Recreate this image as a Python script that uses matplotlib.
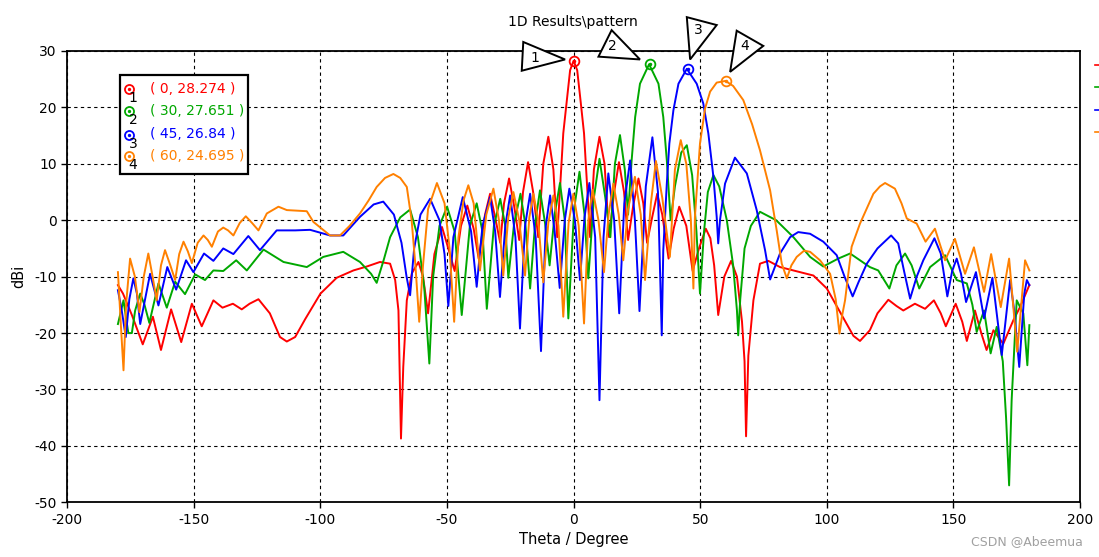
#!/usr/bin/env python3
#-----------------------------------------------------------------------------
#                   1D Results\pattern  (4 scan angles)
#-----------------------------------------------------------------------------
import numpy as np
import matplotlib.pyplot as plt
from matplotlib.patches import Polygon, Rectangle
from matplotlib.lines import Line2D

plt.rcParams['axes.unicode_minus'] = False
plt.rcParams['font.family'] = ['DejaVu Sans']

#%% data (theta in degree, gain in dBi)
redTheta = [-180, -178, -174.5, -170.2, -166.2, -163, -159, -155, -150.8, -146.9,
            -142.3, -138.7, -134.6, -131.1, -128, -124.5, -120, -116, -113.3, -110,
            -106, -100, -93.6, -87, -81.7, -76.5, -72.5, -70.5, -69.2, -68.2,
            -67.3, -65.9, -63.9, -61.3, -59.5, -57.5, -55, -52, -49.5, -47,
            -44.5, -42, -39.5, -37.5, -35, -33, -31, -29, -27.5, -25.5,
            -23.5, -21.5, -20, -18, -16, -14, -12, -10, -8, -6.5,
            -5.4, -4.1, -2.7, -1.4, 0, 1.4, 2.7, 4.1, 5.4, 6.5,
            8, 10.2, 12.2, 14, 16, 17.9, 19.9, 21.5, 23.5, 25.6,
            27.5, 29, 31, 33, 35, 37.5, 39.5, 41.7, 44.5, 47,
            49.5, 52.2, 54, 55.5, 57.1, 59.5, 62.2, 64.5, 66.5, 67.5,
            68.1, 69, 71, 73.6, 76.9, 81.5, 89.4, 94.7, 100, 103,
            107.8, 110.5, 113.1, 117, 120, 124.3, 127.5, 130.2, 134.8, 138.8,
            142.3, 145, 147, 150.9, 153.5, 155.3, 158.5, 161, 163.1, 165.8,
            169.7, 173.7, 176.3, 180]
redGain  = [-11.5, -13, -16.8, -22, -17.1, -23, -15.8, -21.6, -14.8, -18.8,
            -14.2, -15.5, -14.8, -15.8, -14.8, -14, -16.5, -20.7, -21.5, -20.7,
            -17.5, -13, -10.2, -8.9, -8.2, -7.4, -7.7, -10.6, -16, -38.7,
            -26, -14.2, -9.4, -7.4, -10, -16.5, -6, -1.2, -5, -9,
            -1, 2.6, -1.5, -6.8, 1, 4.7, 0.5, -4, 3, 7.4,
            2.5, -3.5, 5, 10.3, 5, -3, 10, 14.8, 9, -3,
            5.3, 15.4, 21.3, 26.6, 28.274, 26.6, 21.3, 15.4, 5.3, -3,
            9, 14.8, 10, -3, 5, 10.3, 5, -3.5, 2.5, 7.4,
            3, -4, 0.5, 4.7, 1, -6.8, -1.5, 2.4, -1, -9,
            -5, -1.5, -3.2, -8, -16.8, -10, -7.2, -10, -18, -25,
            -38.3, -24, -14.2, -7.7, -7.2, -8.3, -9.2, -9.8, -12.1, -14.5,
            -18.3, -20.5, -21.4, -19.5, -16.5, -14.1, -15.2, -16, -14.8, -15.7,
            -14.2, -16.5, -18.8, -14.8, -18, -21.4, -16, -20, -23, -19.5,
            -21.9, -17.7, -15.4, -11.5]

greenTheta = [-180, -177.8, -175.9, -174.5, -173.2, -171.2, -169.5, -167.6, -164, -160.7,
              -157.4, -153.5, -149.5, -145.6, -142.3, -138.4, -133.3, -129.1, -122.5, -114.6,
              -105.4, -98.9, -91, -84.4, -80, -77.8, -75, -72.5, -68.5, -64.6,
              -61.5, -59, -57, -55.5, -53, -50, -47, -44.2, -41, -38.3,
              -36, -34.3, -31.5, -29, -27, -25.8, -23.5, -21, -19, -17.2,
              -15.2, -13.3, -11.3, -9.5, -7.5, -5.4, -3.5, -2.1, 0.2, 2.3,
              4.3, 5.8, 8, 10.2, 12.5, 14.5, 16.3, 18.3, 20.2, 21.5,
              22.9, 24.3, 26.2, 29.8, 33.5, 35.4, 36.8, 38.3, 40, 42.5,
              44.7, 46.8, 48.5, 49.9, 51.5, 53, 55.2, 57.5, 60.5, 63,
              64.5, 65, 65.8, 67.5, 70, 73.6, 80, 86.8, 93.4, 98.6,
              104.5, 109.2, 117, 120.3, 124.7, 127.5, 130.9, 133.5, 136.5, 140.8,
              146.7, 151.3, 155.3, 157.5, 159.2, 162.1, 164.7, 167.1, 169.5, 170.8,
              172, 173, 175, 177.6, 179.2, 180]
greenGain  = [-18.4, -14.2, -20, -20, -16, -13, -15, -18.2, -11.2, -15.5,
              -10.9, -13.1, -9.6, -10.6, -8.9, -9, -7.1, -8.9, -5.2, -7.4,
              -8.3, -6.5, -5.6, -7.4, -9.5, -11.1, -7, -3, 0.5, 1.9,
              -3, -12, -25.4, -10, -1, 2.4, -2, -16.8, -1, 3,
              -2, -15.7, -1, 3.8, -1, -10.2, -0.5, 4.7, -1, -12.1,
              -0.5, 5.3, -0.5, -8, 1, 6.6, 0, -17.4, 2, 8.6,
              1, -10.3, 4, 10.9, 4, -3, 10, 15.1, 9, 1,
              10.6, 18.3, 24.2, 27.651, 24.2, 18.3, 10.6, 0, 6, 12,
              13.3, 8, -2, -13, -2, 5, 8, 6, 0, -8,
              -16, -20.4, -14, -5, -1, 1.5, 0, -3, -6.5, -8.2,
              -6.8, -5.9, -8.3, -8.9, -12.1, -8, -5.9, -8, -12.1, -8.3,
              -6.2, -10.6, -11.2, -15, -19.8, -16, -23.6, -18.9, -25, -35,
              -47, -31.9, -14.2, -16.5, -25.7, -18.6]

blueTheta = [-180, -178.5, -176.9, -175.5, -173.9, -172.5, -171.2, -167.3, -164, -160.5,
             -157, -153.1, -150.2, -146, -142.3, -138.4, -134.4, -128.5, -123.9, -117.3,
             -110, -104.1, -96.2, -91, -84.4, -79, -75.2, -71, -68, -66,
             -64.6, -63, -60.5, -56.7, -53, -51, -49.5, -47.5, -43.8, -40.5,
             -38.3, -36, -33, -31, -29.1, -27, -25.1, -23, -21.2, -19.2,
             -17.2, -15, -12.9, -11, -9.3, -7.5, -5.5, -3.5, -1.7, 0.5,
             2.5, 4.3, 6.2, 8.5, 10.2, 11.8, 13.7, 16, 18, 20,
             22.3, 24.2, 26, 28.5, 31.1, 33.3, 34.8, 35.4, 36.8, 37.8,
             39.4, 41.4, 44.7, 48.6, 51.2, 53.2, 55.2, 56.5, 57.1, 57.8,
             59.8, 63.7, 68.4, 72.3, 75.6, 77.6, 81.5, 85.5, 88.7, 93.4,
             98.6, 103.9, 107, 110.2, 112.5, 115.8, 120, 125.4, 128.2, 130.5,
             132.9, 135.5, 138.1, 142.5, 145, 147.6, 149.5, 151.3, 153, 155,
             158.9, 162.1, 165.4, 169.1, 172.4, 174, 176, 178, 179, 180]
blueGain  = [-12.4, -16, -20.7, -14, -10.3, -13, -18.4, -9.5, -15.1, -8.3,
             -12.3, -7.1, -9.2, -5.9, -7.2, -5, -6, -2.8, -5.3, -1.8,
             -1.8, -1.7, -2.7, -2.7, 0.6, 2.8, 3.3, 1, -4, -10,
             -13.3, -5, 1, 3.8, 0, -6, -15.2, -3, 4.1, -2,
             -11.8, -1, 4.1, -2, -13.6, -1, 4.4, -3, -19.2, -1,
             4.7, -3, -23.2, -1, 4.4, -2, -12, 0, 5.6, 0,
             -10.6, 0.5, 6.6, -3, -31.9, -3, 8.3, 0, -16.5, 3,
             10.6, 0, -16.1, 6, 14.7, 5, -20.4, -5.3, 6.5, 13.6,
             19.5, 24.2, 26.84, 24.2, 20.7, 15.4, 7.7, 0.6, -4.1, 0,
             6.5, 11.1, 8.3, 1.8, -5.3, -10.5, -5.9, -3, -2.1, -2.4,
             -3.8, -6.2, -10, -13.5, -11, -7.7, -5, -2.7, -4.1, -9,
             -13.9, -10, -7.1, -3.2, -5.9, -13.5, -9, -6.8, -9.5, -14.5,
             -9.2, -17.4, -10.2, -23.9, -10.6, -16, -26, -13, -10.6, -11.5]

orangeTheta = [-180, -178.8, -177.8, -176.8, -175.2, -173.3, -171.5, -169.8, -168, -166.3,
               -164.7, -163, -161.4, -159.3, -157.4, -155.8, -154.1, -152.4, -150.8, -148.5,
               -146.2, -144.5, -142.9, -140.5, -138.4, -136.5, -134.4, -131.9, -129.5, -127,
               -124.5, -121.2, -116.6, -113.3, -105.4, -102.8, -96.2, -92.3, -88.5, -84.4,
               -81, -77.8, -74.5, -71.2, -68.5, -65.9, -64, -62.5, -61, -59.5,
               -57.5, -54, -51, -49, -47.2, -45.5, -43.5, -41.6, -39.5, -37,
               -34.5, -31.7, -29.5, -27.8, -25.8, -23.8, -21.5, -19.2, -17.5, -15.9,
               -14, -12, -10, -8, -6, -4.1, -2, -0.1, 2, 4.1,
               5.8, 7.5, 9.8, 12, 13.8, 15.7, 17.8, 19.6, 21.5, 24.2,
               26.5, 28.2, 30.5, 32.5, 35, 38, 40, 42.3, 44.5, 46.3,
               47.3, 47.9, 49.9, 51.9, 53.9, 56.5, 60, 63, 67, 70.5,
               73.6, 77.6, 80.2, 82.2, 84.2, 86, 88.1, 91, 93.4, 97.3,
               101.3, 103.5, 105, 106, 107.2, 109.8, 113.1, 118.4, 121, 123,
               126.9, 129.5, 131.6, 135.5, 139, 142.7, 146.7, 150.6, 154.6, 158.1,
               162.1, 164.9, 168.7, 172, 175.2, 178.3, 180]
orangeGain  = [-9.2, -18.9, -26.6, -15, -6.8, -10, -16.3, -10, -5.9, -10,
               -14.2, -8, -5.3, -8, -10.6, -6, -3.8, -5.5, -7.6, -4,
               -2.7, -3.5, -4.7, -2, -1.3, -1.8, -2.7, -0.5, 0.7, -0.5,
               -1.8, 1.2, 2.4, 1.8, 1.6, -0.3, -2.7, -2.7, -1, 1.2,
               3.5, 5.9, 7.5, 8.2, 7.5, 5.9, 0, -8, -18, -8,
               2, 6.6, 3, -5, -18, -3, 3.5, 6.2, 3, -8.9,
               1, 5.6, 0, -9.8, 0.5, 5, 0, -9.8, 0.5, 4.7,
               0, -11, -0.5, 4.4, -1, -17.1, -0.5, 4.7, -1, -18.3,
               0, 5.4, 0, -9.2, 1, 6.5, 1, -7.1, 2, 7.7,
               1, -10.6, 3, 10.5, 4, -6.5, 9, 14.2, 10, 0,
               -12.1, 0.6, 13.6, 19.8, 22.8, 24.4, 24.695, 23.8, 21.3, 17,
               12.4, 5.3, -1.8, -7.7, -10.3, -8, -6.5, -5.4, -5.6, -7.1,
               -9.5, -14, -20.1, -17, -14.2, -4.7, -0.6, 4.7, 6, 6.6,
               5.6, 3, 0.3, -0.6, -3.8, -1.5, -7.1, -3.3, -9.5, -4.8,
               -12.7, -6, -15.4, -6.8, -23.3, -7.1, -8.9]

markTheta = [0, 30, 45, 60]
markGain  = [28.274, 27.651, 26.84, 24.695]
markText  = ["( 0, 28.274 )", "( 30, 27.651 )", "( 45, 26.84 )", "( 60, 24.695 )"]

colors = ['#ff0000', '#00a800', '#0000ff', '#ff8000']

#%% figure
W, H = 1099, 557
fig = plt.figure(figsize=(W/100, H/100), dpi=100)

def fx(px):
    return px/W
def fy(py):
    return 1 - py/H

ax = fig.add_axes([fx(67.3), fy(502.3), fx(1080) - fx(67.3), fy(51) - fy(502.3)])

series = [(redTheta, redGain), (greenTheta, greenGain),
          (blueTheta, blueGain), (orangeTheta, orangeGain)]
for (t, g), c in zip(series, colors):
    ax.plot(t, g, color=c, lw=1.4, zorder=3)

for i in range(4):
    ax.plot(markTheta[i], markGain[i], 'o', ms=7, mfc='none', mec=colors[i], mew=1.3,
            zorder=5, clip_on=False)
    ax.plot(markTheta[i], markGain[i], 'o', ms=1.5, color=colors[i], zorder=6, clip_on=False)

ax.set_xlim(-200, 200)
ax.set_ylim(-50, 30)
ax.set_xticks(np.arange(-200, 201, 50))
ax.set_yticks(np.arange(-50, 31, 10))
ax.grid(True, color='black', lw=0.8, linestyle=(0, (3, 3)))
ax.tick_params(direction='out', length=4, width=1, labelsize=10, colors='black')
for s in ax.spines.values():
    s.set_linewidth(1.3)
ax.set_xlabel('Theta / Degree', fontsize=10.5, labelpad=4)
ax.set_ylabel('dBi', fontsize=10.5, labelpad=6)

# callout triangles pointing to the markers
tris = [[(-19.9, 31.6), (-20.5, 26.5), (-3.4, 28.5)],
        [(15.0, 33.7), (9.8, 29.0), (26.2, 28.5)],
        [(44.7, 36.0), (56.5, 34.6), (46.0, 28.5)],
        [(64.4, 33.6), (74.9, 30.9), (61.8, 26.3)]]
triLab = [(-15.5, 28.8), (15.4, 30.8), (49.2, 33.7), (67.7, 30.8)]
for i in range(4):
    ax.add_patch(Polygon(tris[i], closed=True, fc='white', ec='black', lw=1.4,
                         zorder=7, clip_on=False))
    ax.text(triLab[i][0], triLab[i][1], str(i + 1), fontsize=10, ha='center', va='center',
            zorder=8, clip_on=False)

# marker table in the top left corner
fig.add_artist(Rectangle((fx(120), fy(174.3)), fx(248.3) - fx(120), fy(75) - fy(174.3),
                         transform=fig.transFigure, fc='white', ec='black', lw=1.6, zorder=9))
rowY = [89.3, 111.3, 134.5, 156.3]
for i in range(4):
    fig.add_artist(Line2D([fx(129.3)], [fy(rowY[i])], marker='o', ms=6.5, mfc='none',
                          mec=colors[i], mew=1.3, transform=fig.transFigure, zorder=10))
    fig.add_artist(Line2D([fx(129.3)], [fy(rowY[i])], marker='o', ms=1.4, color=colors[i],
                          transform=fig.transFigure, zorder=10))
    fig.text(fx(133), fy(rowY[i] + 9), str(i + 1), fontsize=10, ha='center', va='center',
             zorder=11)
    fig.text(fx(150), fy(rowY[i]), markText[i], fontsize=10, color=colors[i],
             ha='left', va='center', zorder=11)

# clipped legend stubs on the right edge
stubY = [65, 87, 110, 132]
for i in range(4):
    fig.add_artist(Line2D([fx(1095), fx(1099)], [fy(stubY[i]), fy(stubY[i])],
                          color=colors[i], lw=1.2, transform=fig.transFigure))

fig.text(fx(573), fy(22), '1D Results\\pattern', fontsize=10, ha='center', va='center')
fig.text(fx(1083), fy(542), 'CSDN @Abeemua', fontsize=9, color='#a0a0a0',
         ha='right', va='center')

fig.savefig('out.png', dpi=100)
